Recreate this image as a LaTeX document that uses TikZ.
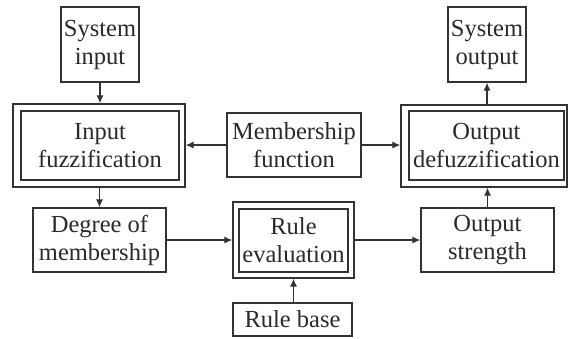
\documentclass[tikz,border=0pt]{standalone}
\usepackage{fontspec}
\setmainfont{Liberation Serif}
\usetikzlibrary{arrows.meta}
\definecolor{ln}{HTML}{333333}
\definecolor{tx}{HTML}{2A2A2A}
\begin{document}
\begin{tikzpicture}[x=1pt,y=-1pt,
  box/.style={draw=ln,line width=1.3pt,rectangle,inner sep=0pt,align=center,
    text=tx,font=\fontsize{24.5}{28}\selectfont},
  frame/.style={draw=ln,line width=1.3pt,rectangle,inner sep=0pt},
  arr/.style={draw=ln,line width=1.2pt,-{Latex[length=8pt,width=7pt]}}]
\useasboundingbox (0,0) rectangle (568,338);
% plain boxes
\node[box,minimum width=78pt,minimum height=75pt] (sin) at (100,44.5) {System\\input};
\node[box,minimum width=78pt,minimum height=75pt] (sout) at (487,44.5) {System\\output};
\node[box,minimum width=134pt,minimum height=64pt] (mf) at (294,145) {Membership\\function};
\node[box,minimum width=133pt,minimum height=64pt] (dom) at (99.5,240) {Degree of\\membership};
\node[box,minimum width=133pt,minimum height=64pt] (os) at (487.5,240) {Output\\strength};
\node[box,minimum width=119pt,minimum height=33pt] (rb) at (292.5,319.5) {Rule base};
% double boxes
\node[frame,minimum width=172pt,minimum height=83pt] (fuzzo) at (99,145.5) {};
\node[box,minimum width=158pt,minimum height=69pt] (fuzz) at (100,145.5) {Input\\fuzzification};
\node[frame,minimum width=166pt,minimum height=82pt] (defo) at (484,146) {};
\node[box,minimum width=155pt,minimum height=69pt] (def) at (486.5,145.5) {Output\\defuzzification};
\node[frame,minimum width=121pt,minimum height=76pt] (reo) at (293.5,240) {};
\node[box,minimum width=109pt,minimum height=63pt] (re) at (293.5,240.5) {Rule\\evaluation};
% connectors
\draw[arr] (sin.south) -- (fuzzo.north -| sin.south);
\draw[arr] (fuzzo.south -| dom.north) -- (dom.north);
\draw[arr] (mf.west) -- (mf.west -| fuzzo.east);
\draw[arr] (mf.east) -- (mf.east -| defo.west);
\draw[arr] (dom.east) -- (dom.east -| reo.west);
\draw[arr] (reo.east |- os.west) -- (os.west);
\draw[arr] (os.north) -- (os.north |- defo.south);
\draw[arr] (defo.north -| sout.south) -- (sout.south);
\draw[arr] (rb.north -| re.south) -- (reo.south -| re.south);
\end{tikzpicture}
\end{document}
